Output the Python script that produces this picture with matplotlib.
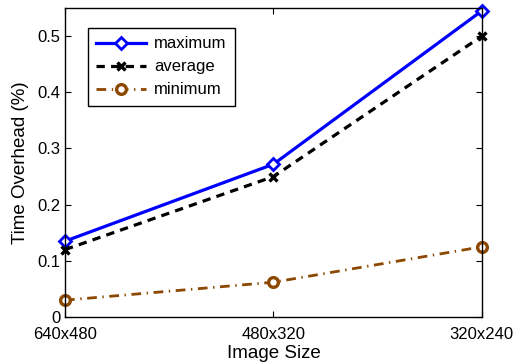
import matplotlib
matplotlib.use('Agg')
import matplotlib.pyplot as plt

plt.rcParams['font.family'] = ['Liberation Sans', 'DejaVu Sans']
plt.rcParams['lines.scale_dashes'] = False

sizes = ['640x480', '480x320', '320x240']
maximum = [0.135, 0.272, 0.545]
average = [0.120, 0.250, 0.500]
minimum = [0.030, 0.062, 0.125]

fig = plt.figure(figsize=(5.14, 3.64), dpi=100)
ax = fig.add_axes([0.1265, 0.129, 0.811, 0.849])

x = range(len(sizes))
brown = '#8c4800'
ax.plot(x, maximum, '-', color='#0000ff', lw=2.3, marker='D', ms=6,
        mfc='white', mec='#0000ff', mew=2.0, label='maximum', clip_on=False)
ax.plot(x, average, color='black', lw=2.3, marker='x', ms=6, dashes=(6, 4.5),
        mew=2.4, label='average', clip_on=False)
ax.plot(x, minimum, color=brown, lw=2.0, marker='o', ms=7, dashes=(7, 4, 1, 4),
        mfc='white', mec=brown, mew=2.4, label='minimum', clip_on=False)

ax.set_xlim(0, 2)
ax.set_ylim(0, 0.55)
ax.set_xticks(list(x))
ax.set_xticklabels(sizes)
ax.set_yticks([0, 0.1, 0.2, 0.3, 0.4, 0.5])
ax.set_yticklabels(['0', '0.1', '0.2', '0.3', '0.4', '0.5'])
ax.tick_params(direction='in', labelsize=12, length=4, width=0.8,
               top=True, right=True)
ax.tick_params(axis='x', pad=7)
ax.tick_params(axis='y', pad=3)
for s in ax.spines.values():
    s.set_linewidth(1.0)

ax.set_xlabel('Image Size', fontsize=13.5, labelpad=2)
ax.set_ylabel('Time Overhead (%)', fontsize=13.5, labelpad=6)

leg = ax.legend(loc='upper left', bbox_to_anchor=(0.055, 0.935), borderaxespad=0,
                fontsize=12, fancybox=False, framealpha=1, edgecolor='black',
                handlelength=3.0, handletextpad=0.45, borderpad=0.5,
                labelspacing=0.48)
leg.get_frame().set_linewidth(1.0)

fig.savefig('out.png', dpi=100)
